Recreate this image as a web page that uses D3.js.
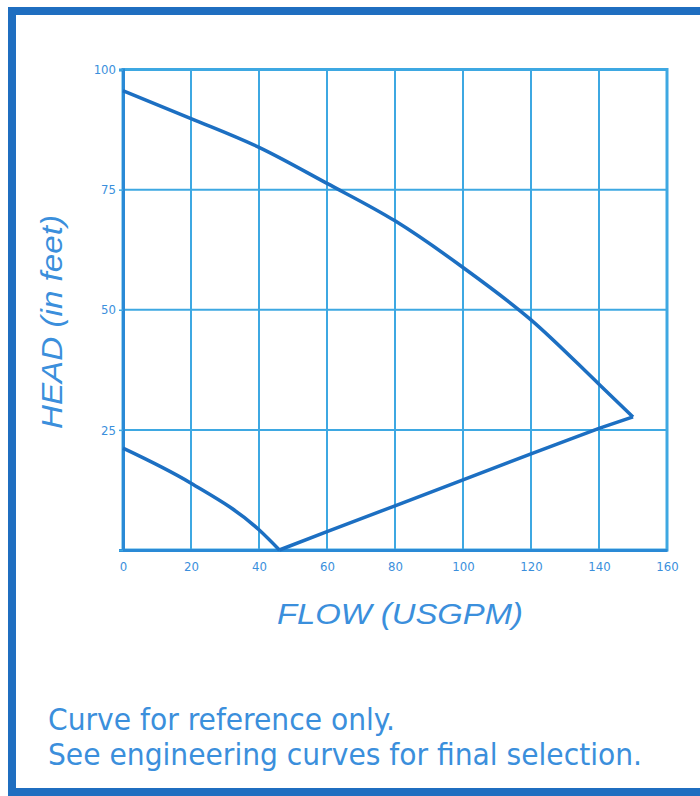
<!DOCTYPE html>
<html>
<head>
<meta charset="utf-8">
<script src="https://cdn.jsdelivr.net/npm/d3@7"></script>
<style>
  body { margin: 0; background: #fff; }
  svg { display: block; }
</style>
</head>
<body>
<div id="chart"></div>
<script>
// pump curve

var flowTicks = [0, 20, 40, 60, 80, 100, 120, 140, 160];
var headTicks = [25, 50, 75, 100];

// upper curve: head vs flow
var headFlow = [0, 20, 40, 60, 80, 100, 120, 140, 150];
var headVals = [95.6, 89.8, 83.8, 76.3, 68.5, 58.8, 47.9, 34.5, 27.7];

// lower curve, falling part then rising part
var dropFlow = [0, 20, 40, 46];
var dropVals = [21.2, 13.9, 4.2, 0];
var riseFlow = [46, 60, 80, 100, 120, 140, 150];
var riseVals = [0, 3.8, 9.2, 14.6, 20.0, 25.3, 27.7];

var footer = ["Curve for reference only.", "See engineering curves for final selection."];

var W = 700, H = 796;
var gridColor = "#3ea8e2", curveColor = "#1c6fc2", textColor = "#3b8fdc", frameColor = "#1f6ec0";

var svg = d3.select("#chart").append("svg")
  .attr("width", W)
  .attr("height", H);

// outer frame
svg.append("rect")
  .attr("x", 12).attr("y", 11)
  .attr("width", 700).attr("height", 781)
  .attr("fill", "#fff")
  .attr("stroke", frameColor)
  .attr("stroke-width", 8);

var x = d3.scaleLinear().domain([0, 160]).range([123, 667]);
var y = d3.scaleLinear().domain([0, 100]).range([550, 69.5]);

var g = svg.append("g");

// grid lines
g.selectAll("line.vgrid")
  .data(flowTicks.slice(1, -1))
  .enter().append("line")
  .attr("class", "vgrid")
  .attr("x1", function (d) { return x(d); })
  .attr("x2", function (d) { return x(d); })
  .attr("y1", y(0)).attr("y2", y(100))
  .attr("stroke", gridColor).attr("stroke-width", 2);

g.selectAll("line.hgrid")
  .data(headTicks.slice(0, -1))
  .enter().append("line")
  .attr("class", "hgrid")
  .attr("x1", x(0)).attr("x2", x(160))
  .attr("y1", function (d) { return y(d); })
  .attr("y2", function (d) { return y(d); })
  .attr("stroke", gridColor).attr("stroke-width", 2);

// plot box
g.append("rect")
  .attr("x", x(0)).attr("y", y(100))
  .attr("width", x(160) - x(0)).attr("height", y(0) - y(100))
  .attr("fill", "none")
  .attr("stroke", gridColor).attr("stroke-width", 3);

// axes
var xAxis = d3.axisBottom(x).tickValues(flowTicks).tickSize(0).tickPadding(12);
var yAxis = d3.axisLeft(y).tickValues([0].concat(headTicks)).tickSize(4).tickPadding(3)
  .tickFormat(function (d) { return d === 0 ? "" : d; });

var gx = g.append("g").attr("transform", "translate(0," + y(0) + ")").call(xAxis);
var gy = g.append("g").attr("transform", "translate(" + x(0) + ",0)").call(yAxis);

[gx, gy].forEach(function (a) {
  a.select(".domain").attr("stroke", "#2a8ad6").attr("stroke-width", 3);
  a.selectAll(".tick line").attr("stroke", gridColor).attr("stroke-width", 1.5);
  a.selectAll("text")
    .attr("fill", textColor)
    .style("font-family", "'Liberation Sans Narrow', 'DejaVu Sans Condensed', sans-serif")
    .style("font-size", "13px");
});

// curves
var smooth = d3.line()
  .x(function (d) { return x(d[0]); })
  .y(function (d) { return y(d[1]); })
  .curve(d3.curveMonotoneX);

var straight = d3.line()
  .x(function (d) { return x(d[0]); })
  .y(function (d) { return y(d[1]); });

var curves = [
  {pts: d3.zip(headFlow, headVals), gen: smooth},
  {pts: d3.zip(dropFlow, dropVals), gen: smooth},
  {pts: d3.zip(riseFlow, riseVals), gen: straight}
];

g.selectAll("path.curve")
  .data(curves)
  .enter().append("path")
  .attr("class", "curve")
  .attr("d", function (d) { return d.gen(d.pts); })
  .attr("fill", "none")
  .attr("stroke", curveColor).attr("stroke-width", 3.5)
  .attr("stroke-linejoin", "round");

// axis titles
svg.append("text")
  .attr("transform", "translate(62,322) rotate(-90)")
  .attr("text-anchor", "middle")
  .attr("textLength", 214)
  .attr("lengthAdjust", "spacingAndGlyphs")
  .attr("fill", textColor)
  .style("font-family", "'Liberation Sans', Arial, sans-serif")
  .style("font-style", "italic")
  .style("font-size", "30px")
  .text("HEAD (in feet)");

svg.append("text")
  .attr("x", 400).attr("y", 624)
  .attr("text-anchor", "middle")
  .attr("textLength", 246)
  .attr("lengthAdjust", "spacingAndGlyphs")
  .attr("fill", textColor)
  .style("font-family", "'Liberation Sans', Arial, sans-serif")
  .style("font-style", "italic")
  .style("font-size", "30px")
  .text("FLOW (USGPM)");

// footer note
var widths = [347, 594];
svg.selectAll("text.note")
  .data(footer)
  .enter().append("text")
  .attr("class", "note")
  .attr("x", 48)
  .attr("y", function (d, i) { return 730 + i * 35; })
  .attr("textLength", function (d, i) { return widths[i]; })
  .attr("lengthAdjust", "spacingAndGlyphs")
  .attr("fill", textColor)
  .style("font-family", "'Liberation Sans Narrow', 'DejaVu Sans Condensed', sans-serif")
  .style("font-size", "31px")
  .text(function (d) { return d; });
</script>
</body>
</html>
